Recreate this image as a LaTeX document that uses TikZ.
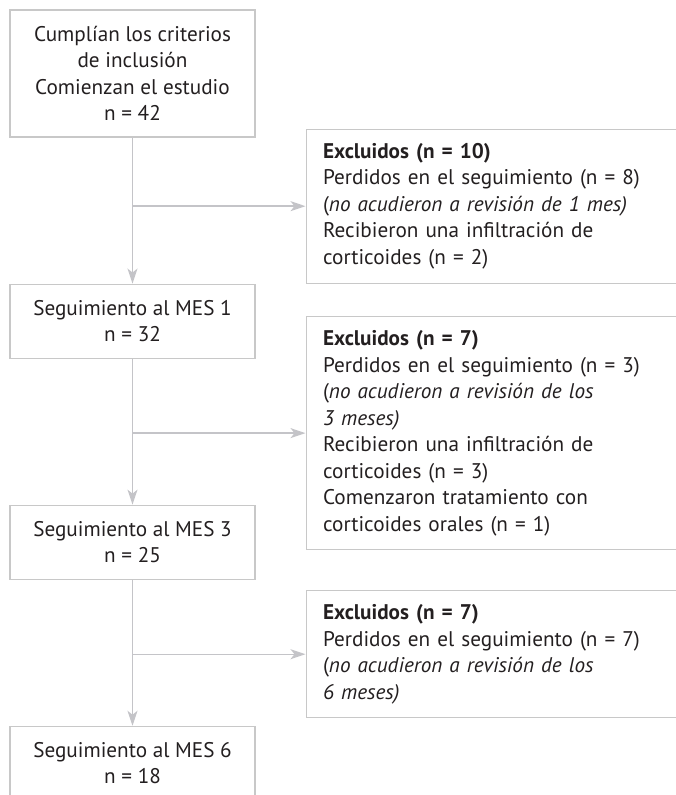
\documentclass[tikz,border=0pt]{standalone}
\usepackage{fontspec}
\setmainfont{PT Sans}
\usepackage{tikz}
\usetikzlibrary{
  arrows.meta,
  positioning,
  calc
}
\usepackage{xcolor}
\definecolor{boxgray}{HTML}{C8C8C8}
\definecolor{linegray}{HTML}{C4C4C8}
\definecolor{inkgray}{HTML}{231F20}
\tikzset{
  stage box/.style={
    draw=boxgray, rectangle, line width=1.1pt,
    minimum width=245pt, minimum height=74pt,
    inner ysep=14pt,
    align=center, text=inkgray
  },
  excl box/.style={
    draw=boxgray, rectangle, line width=1.1pt,
    anchor=west, inner xsep=17pt, inner ysep=14pt,
    text width=360pt, align=left, text=inkgray
  },
  flow arrow/.style={
    -{Stealth[length=15pt, width=10pt, inset=4pt]},
    line width=1.4pt, draw=linegray, color=linegray
  },
}

\begin{document}
\begin{tikzpicture}[x=1pt, y=1pt,
    font=\fontsize{21.2pt}{26.5pt}\selectfont, node distance=146pt]

  \useasboundingbox (0,0) rectangle (675,-795);

  \node[stage box, minimum height=127pt] (start) at (132.5,-73.5)
    {Cumplían los criterios\\de inclusión\\Comienzan el estudio\\n = 42};

  \node[stage box, below=of start] (mes1) {Seguimiento al MES 1\\n = 32};
  \node[stage box, below=of mes1]  (mes3) {Seguimiento al MES 3\\n = 25};
  \node[stage box, below=of mes3]  (mes6) {Seguimiento al MES 6\\n = 18};

  % branch points on the main line
  \coordinate (b1) at ($(start.south)!0.47!(mes1.north)$);
  \coordinate (b2) at ($(mes1.south)!0.51!(mes3.north)$);
  \coordinate (b3) at ($(mes3.south)!0.51!(mes6.north)$);

  \node[excl box, right=173pt of b1] (exc1)
    {\textbf{Excluidos (n = 10)}\\
     Perdidos en el seguimiento (n = 8)\\
     (\textit{no acudieron a revisión de 1 mes)}\\
     Recibieron una infiltración de\\
     corticoides (n = 2)};
  \node[excl box, right=173pt of b2] (exc2)
    {\textbf{Excluidos (n = 7)}\\
     Perdidos en el seguimiento (n = 3)\\
     (\textit{no acudieron a revisión de los}\\
     \textit{3 meses)}\\
     Recibieron una infiltración de\\
     corticoides (n = 3)\\
     Comenzaron tratamiento con\\
     corticoides orales (n = 1)};
  \node[excl box, right=173pt of b3] (exc3)
    {\textbf{Excluidos (n = 7)}\\
     Perdidos en el seguimiento (n = 7)\\
     (\textit{no acudieron a revisión de los}\\
     \textit{6 meses)}};

  \draw[flow arrow] (start.south) -- (mes1.north);
  \draw[flow arrow] (mes1.south)  -- (mes3.north);
  \draw[flow arrow] (mes3.south)  -- (mes6.north);

  \draw[flow arrow] (b1) -- (exc1.west);
  \draw[flow arrow] (b2) -- (exc2.west);
  \draw[flow arrow] (b3) -- (exc3.west);

\end{tikzpicture}
\end{document}
